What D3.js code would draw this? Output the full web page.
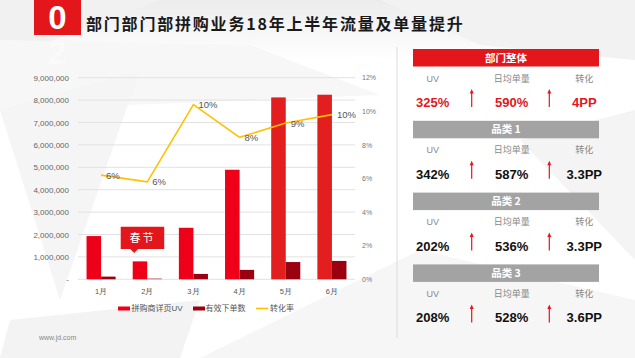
<!DOCTYPE html>
<html><head><meta charset="utf-8">
<script src="https://cdn.jsdelivr.net/npm/d3@7/dist/d3.min.js"></script>
<style>
html,body{margin:0;padding:0;background:#fff;}
svg{display:block;font-family:"Liberation Sans","Noto Sans CJK SC",sans-serif;}
</style></head><body>
<svg id="c" width="635" height="358"></svg>
<script>
const months = ["1月","2月","3月","4月","5月","6月"];
const uv = [1930000, 800000, 2300000, 4890000, 8120000, 8240000];
const orders = [120000, 40000, 240000, 420000, 770000, 820000];
const rate = [6.2, 5.8, 10.4, 8.45, 9.3, 9.8];
const rateLabels = ["6%","6%","10%","8%","9%","10%"];
const leftTicks = [0,1000000,2000000,3000000,4000000,5000000,6000000,7000000,8000000,9000000];
const rightTicks = [0,2,4,6,8,10,12];
const seriesNames = ["拼购商详页UV","有效下单数","转化率"];
const titleText = "部门部门部拼购业务18年上半年流量及单量提升";
const panelTitles = ["部门整体","品类 1","品类 2","品类 3"];
const panelCols = ["UV","日均单量","转化"];
const panelValues = [["325%","590%","4PP"],["342%","587%","3.3PP"],["202%","536%","3.3PP"],["208%","528%","3.6PP"]];

const svg = d3.select("#c");
const RED = "#e8141c", DARK = "#9b0010", YEL = "#ffc000";

// background low-poly shapes
const bg = svg.append("g");
const defs = svg.append("defs");
const lg = defs.append("linearGradient").attr("id","tg").attr("x1",0).attr("y1",0).attr("x2",0).attr("y2",1);
lg.append("stop").attr("offset",0).attr("stop-color","#ececec");
lg.append("stop").attr("offset",1).attr("stop-color","#ffffff");
bg.append("rect").attr("width",635).attr("height",358).attr("fill","#fff");
bg.append("rect").attr("width",635).attr("height",60).attr("fill","url(#tg)");
const polys = [
  [[0,0],[160,0],[0,60]],
  [[0,40],[250,45],[380,95],[0,110]],
  [[0,110],[140,70],[60,300]],
  [[10,320],[200,300],[180,358],[0,358]],
  [[200,358],[420,250],[635,300],[635,358]],
  [[520,140],[635,110],[635,260]],
  [[380,0],[635,0],[635,60],[480,45]]
];
const fills = ["#f1f1f1","#f7f7f7","#f5f5f5","#f3f3f3","#f6f6f6","#f4f4f4","#f2f2f2"];
bg.selectAll("path.p").data(polys).join("path").attr("class","p")
  .attr("d",d=>"M"+d.map(p=>p.join(",")).join("L")+"Z")
  .attr("fill",(d,i)=>fills[i]);

// title
svg.append("rect").attr("x",34).attr("y",0).attr("width",47).attr("height",35).attr("fill","#e3161c");
svg.append("text").attr("x",57.5).attr("y",28.5).attr("text-anchor","middle")
  .attr("font-size",33).attr("font-weight","bold").attr("fill","#fff").text("0");
svg.append("text").attr("x",57.5).attr("y",64).attr("text-anchor","middle")
  .attr("font-size",33).attr("font-weight","bold").attr("fill","#fafafa").text("2");
svg.append("text").attr("x",86).attr("y",30)
  .attr("font-family","'Noto Sans CJK SC',sans-serif")
  .attr("font-size",16).attr("font-weight","bold").attr("letter-spacing",1.8)
  .attr("fill","#1a1a1a").text(titleText);

// chart
const x0 = 78, x1 = 355, yTop = 77.7, yBot = 279.3;
const x = d3.scaleBand().domain(months).range([x0,x1]).paddingInner(0.37).paddingOuter(0.185);
const xs = d3.scaleBand().domain(["uv","orders"]).range([0,x.bandwidth()]);
const y = d3.scaleLinear().domain([0,9000000]).range([yBot,yTop]);
const y2 = d3.scaleLinear().domain([0,12]).range([yBot,yTop]);

const grid = svg.append("g");
grid.selectAll("line").data(leftTicks).join("line")
  .attr("x1",x0).attr("x2",x1).attr("y1",d=>y(d)).attr("y2",d=>y(d))
  .attr("stroke","#e2e2e2").attr("stroke-width",1);

const la = svg.append("g").attr("transform",`translate(69,0)`)
  .call(d3.axisLeft(y).tickValues(leftTicks).tickSize(0).tickPadding(0)
    .tickFormat(d=>d===0?"-  ":d3.format(",")(d)));
la.select(".domain").remove();
la.selectAll("text").attr("font-size",8).attr("fill","#666").attr("font-family","'Liberation Sans',sans-serif");

const ra = svg.append("g").attr("transform",`translate(362,0)`)
  .call(d3.axisRight(y2).tickValues(rightTicks).tickSize(0).tickPadding(0).tickFormat(d=>d+"%"));
ra.select(".domain").remove();
ra.selectAll("text").attr("font-size",7).attr("fill","#777").attr("font-family","'Liberation Sans',sans-serif");

const xa = svg.append("g").attr("transform",`translate(0,${yBot+8})`)
  .call(d3.axisBottom(x).tickSize(0).tickPadding(0));
xa.select(".domain").remove();
xa.selectAll("text").attr("font-size",7.5).attr("fill","#555").attr("dy","0.9em");

const bars = svg.append("g");
bars.selectAll("rect.uv").data(months).join("rect").attr("class","uv")
  .attr("x",m=>x(m)+xs("uv")).attr("width",xs.bandwidth())
  .attr("y",(m,i)=>y(uv[i])).attr("height",(m,i)=>yBot-y(uv[i]))
  .attr("fill",(m,i)=>i>=4?"#e21e1e":"#ee0018");
bars.selectAll("rect.od").data(months).join("rect").attr("class","od")
  .attr("x",m=>x(m)+xs("orders")).attr("width",xs.bandwidth())
  .attr("y",(m,i)=>y(orders[i])).attr("height",(m,i)=>yBot-y(orders[i]))
  .attr("fill",(m,i)=>i===1?"#c46a74":DARK);

const cx = m => x(m)+x.bandwidth()/2;
const line = d3.line().x((d,i)=>cx(months[i])).y(d=>y2(d));
svg.append("path").datum(rate).attr("d",line).attr("fill","none")
  .attr("stroke",YEL).attr("stroke-width",1.6);
svg.append("g").selectAll("text").data(rate).join("text")
  .attr("x",(d,i)=>cx(months[i])+5).attr("y",d=>y2(d)).attr("dy","0.38em")
  .attr("font-size",9.5).attr("fill","#555").text((d,i)=>rateLabels[i]);

// spring festival callout
const cbx = x(months[1]) - 12, cby = 226.7;
svg.append("path").attr("d",`M${cbx},${cby}h43.5v22.3h-26l-4,4l-4,-4h-9.5Z`).attr("fill","#e3161c");
svg.append("text").attr("x",cbx+21.7).attr("y",cby+11.5).attr("dy","0.36em").attr("text-anchor","middle")
  .attr("font-family","'Noto Sans CJK SC',sans-serif").attr("font-size",11).attr("letter-spacing",2)
  .attr("fill","#fff").text("春节");

// legend
const lgd = svg.append("g").attr("font-size",8).attr("fill","#555");
const lx = [118,193,256], tx = [131.5,205.5,270];
lgd.append("rect").attr("x",lx[0]).attr("y",306.5).attr("width",12).attr("height",4).attr("fill","#ee0018");
lgd.append("rect").attr("x",lx[1]).attr("y",306.5).attr("width",12).attr("height",4).attr("fill",DARK);
lgd.append("line").attr("x1",lx[2]).attr("x2",lx[2]+12).attr("y1",308.5).attr("y2",308.5).attr("stroke",YEL).attr("stroke-width",1.6);
lgd.selectAll("text").data(seriesNames).join("text").attr("x",(d,i)=>tx[i]).attr("y",308.5).attr("dy","0.36em").text(d=>d);

svg.append("text").attr("x",39).attr("y",338).attr("dy","0.35em").attr("font-size",7).attr("fill","#888").text("www.jd.com");

// right panel
svg.append("line").attr("x1",397).attr("x2",397).attr("y1",47).attr("y2",338).attr("stroke","#dcdcdc").attr("stroke-width",1);
const colX = [432.7,511.7,584.3], arrowX = [471.7,549.3];
const panel = svg.append("g");
panelTitles.forEach((t,k)=>{
  const top = 49 + k*71.8;
  const g = panel.append("g");
  g.append("rect").attr("x",413).attr("y",top).attr("width",186).attr("height",17.5).attr("fill",k===0?"#e3161c":"#a3a3a3");
  g.append("text").attr("x",506).attr("y",top+8.9).attr("dy","0.36em").attr("text-anchor","middle")
    .attr("font-family","'Noto Sans CJK SC',sans-serif").attr("font-weight","bold").attr("font-size",10.5).attr("fill","#fff").text(t);
  g.selectAll("text.h").data(panelCols).join("text").attr("class","h")
    .attr("x",(d,i)=>colX[i]).attr("y",top+29.3).attr("dy","0.36em").attr("text-anchor","middle")
    .attr("font-size",9).attr("fill","#888").text(d=>d);
  g.selectAll("text.v").data(panelValues[k]).join("text").attr("class","v")
    .attr("x",(d,i)=>colX[i]).attr("y",top+53.3).attr("dy","0.36em").attr("text-anchor","middle")
    .attr("font-size",13).attr("font-weight","bold").attr("fill",k===0?"#e3161c":"#111").text(d=>d);
  arrowX.forEach(ax=>{
    g.append("line").attr("x1",ax).attr("x2",ax).attr("y1",top+44).attr("y2",top+58).attr("stroke","#e3161c").attr("stroke-width",1.2);
    g.append("path").attr("d",`M${ax-2},${top+44.5}L${ax},${top+40}L${ax+2},${top+44.5}Z`).attr("fill","#e3161c");
  });
});
</script>
</body></html>
